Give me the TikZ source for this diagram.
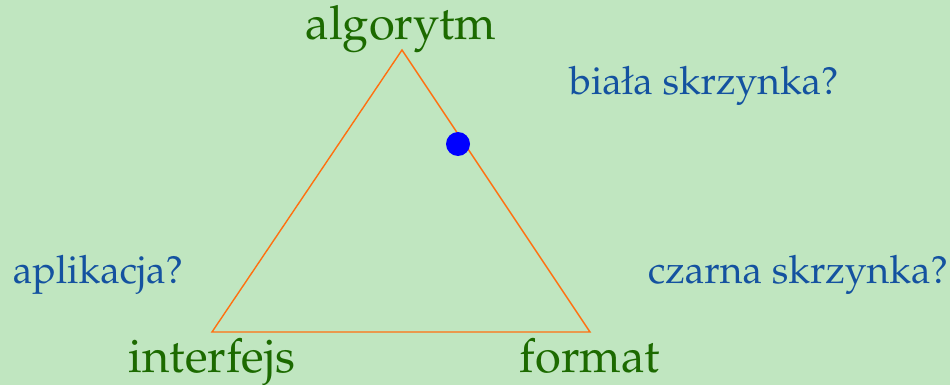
\documentclass[tikz,border=0pt]{standalone}
\usepackage[T1]{fontenc}
\usepackage{mathpazo}
\definecolor{bgc}{HTML}{C0E6C0}
\definecolor{grn}{HTML}{1C6A00}
\definecolor{blu}{HTML}{1452A0}
\definecolor{org}{HTML}{FF7010}
\tikzset{
  vlabel/.style={text=grn, font=\fontsize{47}{50}\selectfont, anchor=base, inner sep=0pt},
  qlabel/.style={text=blu, font=\fontsize{39}{42}\selectfont, anchor=base, inner sep=0pt},
  edge/.style={draw=org, line width=1.4pt}
}
\begin{document}
\begin{tikzpicture}[x=1pt,y=-1pt]
\fill[bgc] (0,0) rectangle (950,385);
\useasboundingbox (0,0) rectangle (950,385);
\coordinate (A) at (402,50);
\coordinate (I) at (212,332);
\coordinate (F) at (590,332);
\draw[edge] (A) -- (I) -- (F) -- cycle;
\node[circle, fill=blue, minimum size=24pt, inner sep=0pt] (dot) at (458,144) {};
\node[vlabel] (alg) at (401,40) {algorytm};
\node[vlabel] (int) at (212,372) {interfejs};
\node[vlabel] (fmt) at (590,372) {format};
\node[qlabel] (bs) at (704,95) {bia\l{}a skrzynka?};
\node[qlabel] (app) at (98,283) {aplikacja?};
\node[qlabel] (cs) at (798,283) {czarna skrzynka?};
\end{tikzpicture}
\end{document}
